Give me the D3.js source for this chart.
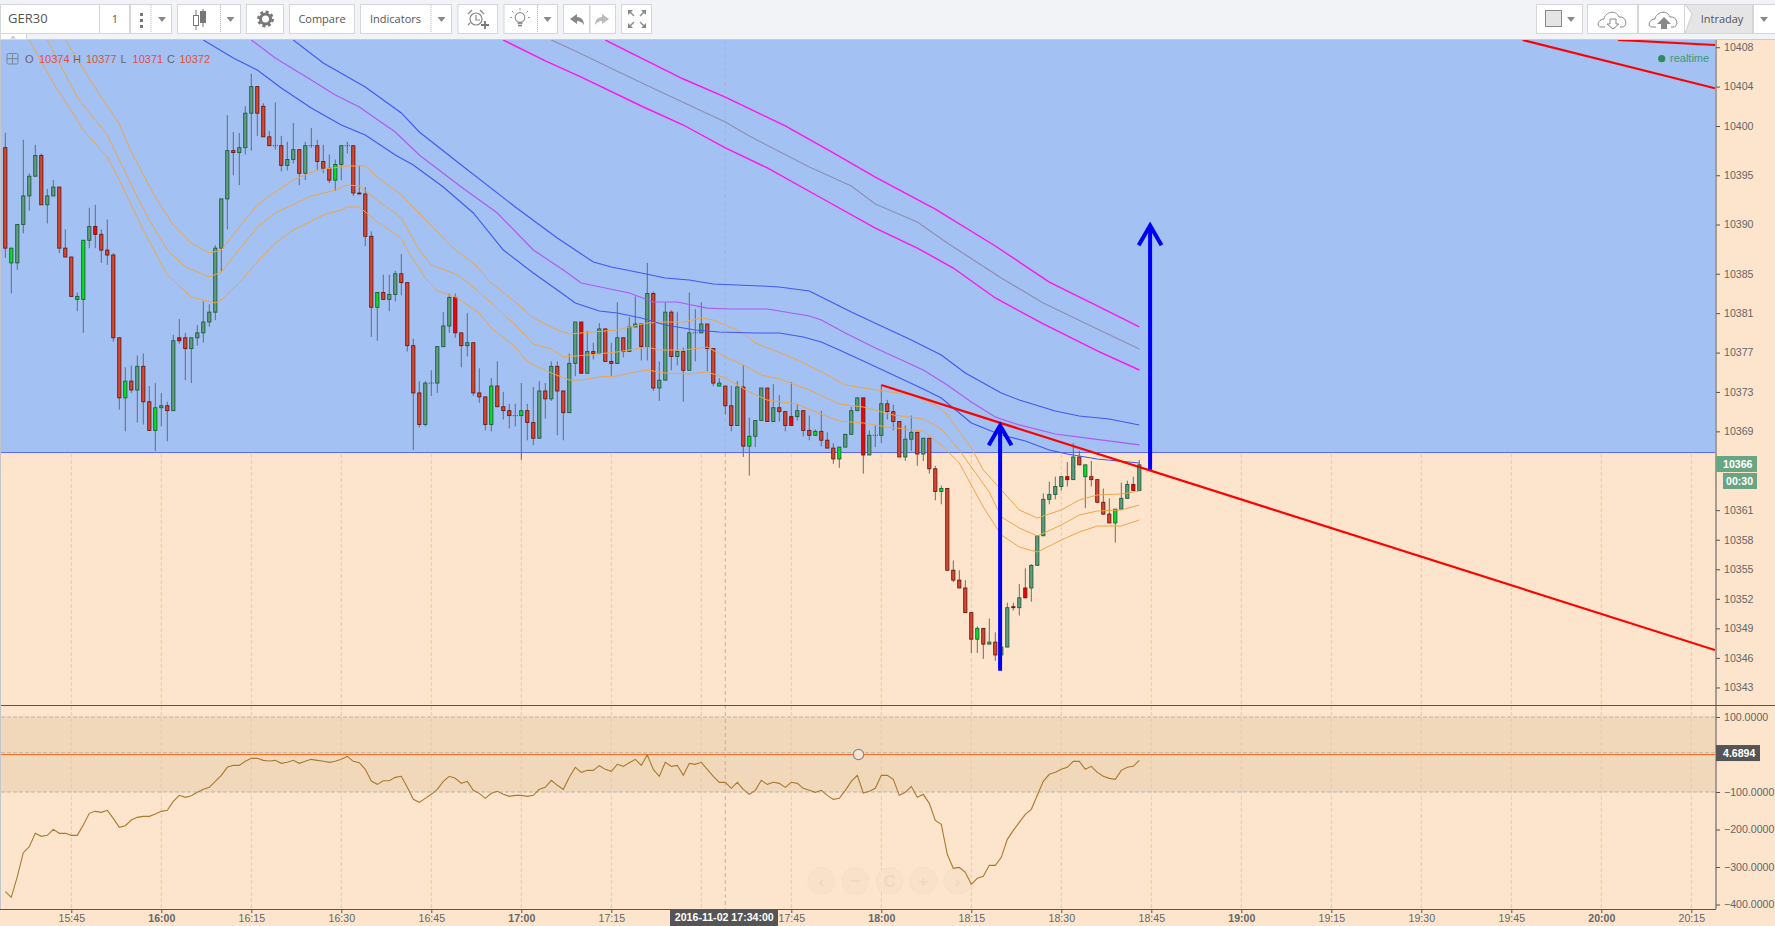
<!DOCTYPE html>
<html>
<head>
<meta charset="utf-8">
<title>GER30</title>
<style>
html, body { margin: 0; padding: 0; background: #fde5cd; overflow: hidden; }
svg { display: block; }
text { font-family: "Liberation Sans", Arial, sans-serif; }
.tb text { font-family: "Open Sans", sans-serif; fill: #555; }
</style>
</head>
<body>
<div id="chart"></div>
<script src="https://cdn.jsdelivr.net/npm/d3@7"></script>
<script type="text/javascript">

// prices are stored as points above 10000, one value per minute bar from 15:34
var base = 10000;
var startMinute = 15 * 60 + 34;

var opens = [397.8,386.1,386.1,390.0,392.9,394.9,397.0,392.0,392.9,393.8,
387.6,386.7,382.4,382.4,388.4,389.8,389.0,387.4,386.9,378.5,
372.4,374.1,373.2,375.6,372.0,369.1,371.4,371.6,371.1,378.5,
378.5,377.4,378.5,379.0,380.1,381.1,387.6,392.6,397.5,397.3,
397.8,401.3,404.0,402.0,398.9,398.0,398.0,396.0,396.6,397.6,
395.2,398.0,398.0,396.4,395.7,394.5,396.1,398.0,398.0,393.2,
393.1,388.8,381.6,383.1,382.4,382.9,385.0,384.1,377.7,372.9,
369.7,373.9,373.9,377.6,379.7,382.6,379.0,377.7,378.0,372.9,
372.5,369.7,373.6,371.5,371.1,370.6,370.6,371.1,369.9,368.3,
373.1,372.3,375.6,373.1,370.9,375.9,380.1,374.9,377.1,376.9,
379.4,376.1,375.9,378.5,377.1,379.6,379.9,377.6,383.0,373.4,
374.2,381.1,376.6,377.1,375.2,379.0,379.0,379.9,377.4,373.6,
373.6,371.6,369.6,373.5,367.5,368.5,370.1,373.4,370.0,371.4,
371.0,370.5,370.5,371.1,369.1,368.6,369.0,368.1,367.3,366.2,
367.4,368.7,371.1,372.4,366.6,368.6,368.6,371.8,371.0,370.0,
366.4,368.2,368.9,366.7,368.3,365.2,362.9,363.2,354.9,353.9,
353.1,350.6,347.9,349.0,347.4,347.6,346.3,347.1,351.2,351.1,
353.1,353.1,355.4,358.4,362.1,362.6,363.4,364.4,364.1,366.4,
364.4,364.4,364.1,361.8,360.6,359.7,361.1,362.2,363.6,363.0];

var highs = [399.3,387.6,390.0,398.6,395.2,398.1,397.2,393.6,394.5,393.8,
389.5,386.7,383.1,388.4,391.7,392.0,389.5,390.5,387.1,378.5,
375.5,375.7,376.7,376.9,373.6,373.9,372.9,372.0,378.8,380.4,
379.0,378.5,379.8,382.2,381.9,387.9,392.6,401.1,399.4,399.3,
402.0,405.3,404.0,402.3,399.5,402.4,399.0,398.4,400.3,397.6,
398.4,399.8,398.6,398.1,397.1,396.6,398.0,398.4,398.0,396.0,
393.8,389.3,383.1,384.9,384.9,385.3,387.0,384.1,378.4,374.1,
374.1,375.2,377.6,381.1,383.0,383.0,379.0,381.0,378.0,375.4,
372.5,374.4,376.1,373.0,371.8,371.8,373.9,371.8,373.5,374.1,
373.9,376.1,376.1,373.1,376.9,380.1,380.1,379.2,378.0,380.0,
379.4,378.0,382.1,378.5,380.6,382.7,379.9,386.1,383.2,376.1,
382.1,381.3,381.1,377.5,383.1,381.4,382.1,379.9,377.4,374.4,
373.6,373.6,374.1,375.7,370.4,370.1,373.4,373.4,373.8,372.7,
371.0,374.0,371.7,371.1,370.6,369.2,371.1,368.9,367.8,367.4,
368.7,371.5,372.4,372.4,369.1,369.6,373.7,372.2,371.7,370.0,
369.6,370.6,368.9,368.3,368.3,365.5,363.5,363.2,355.9,354.9,
353.9,350.6,349.2,349.0,350.0,348.6,347.1,351.6,351.6,353.5,
355.1,355.5,358.4,362.7,363.9,364.4,364.4,365.9,367.8,367.0,
365.6,366.0,364.1,363.2,362.2,361.1,363.8,364.0,364.4,366.1];

var lows = [386.6,383.0,385.4,389.1,391.4,394.9,392.0,390.1,392.9,387.1,
386.7,382.7,381.2,379.0,387.6,387.6,386.1,385.9,378.1,371.2,
369.0,372.9,369.9,369.7,369.1,367.0,369.5,368.0,371.1,377.9,
374.2,373.9,377.7,378.0,379.6,380.3,385.2,389.5,395.0,394.0,
397.1,397.5,399.0,398.9,398.0,397.6,395.4,395.5,396.2,394.0,
394.5,397.8,395.5,395.2,394.2,393.4,394.5,397.2,392.9,393.1,
387.8,378.6,378.2,382.4,381.2,382.2,382.8,377.1,367.1,369.4,
369.5,372.6,372.9,377.6,379.0,378.5,375.5,376.6,372.6,371.9,
369.1,369.0,371.5,370.2,369.3,369.5,366.1,368.1,367.6,368.3,
370.3,372.1,368.6,368.1,370.9,374.6,374.9,374.9,376.3,376.9,
376.1,374.6,375.9,376.5,377.1,379.6,376.2,376.2,373.1,372.1,
374.2,375.2,375.7,372.0,375.2,376.1,379.0,375.1,373.6,373.6,
370.7,369.0,369.6,366.4,364.5,367.4,370.1,370.0,370.0,370.0,
369.0,369.6,370.1,368.5,368.1,368.6,367.5,367.3,365.7,365.3,
367.4,368.7,371.1,364.7,366.6,367.4,367.8,370.2,369.1,366.4,
366.0,367.0,365.5,366.0,364.7,362.0,361.6,354.9,353.7,353.1,
350.6,346.5,346.5,345.9,347.4,345.7,346.3,347.1,350.8,350.3,
352.1,351.7,355.4,358.4,361.6,362.1,363.0,363.4,364.1,365.6,
361.2,363.4,361.7,360.5,359.7,357.7,361.1,362.2,363.0,363.0];

var closes = [387.6,387.6,390.0,392.9,394.9,397.0,392.0,392.9,393.8,387.6,
386.7,382.7,382.7,388.4,389.8,389.0,387.4,386.9,378.5,372.4,
374.1,373.2,375.6,372.0,369.1,371.4,371.6,371.1,378.2,378.2,
377.4,378.5,379.0,380.1,381.1,387.6,392.6,397.5,397.3,397.8,
401.3,404.0,401.3,398.9,398.0,398.0,396.0,396.6,397.6,395.2,
398.0,398.0,396.4,395.7,394.5,396.1,398.0,398.0,393.2,393.1,
388.8,381.6,383.1,382.4,382.9,385.0,384.1,377.7,372.9,369.7,
373.9,373.9,377.6,379.7,382.6,379.0,377.7,378.0,372.9,372.5,
369.7,373.6,371.5,371.1,370.6,370.6,371.1,369.9,368.3,373.1,
372.3,375.6,373.1,370.9,375.9,380.1,374.9,377.1,376.9,379.4,
376.1,375.9,378.5,377.1,379.6,379.9,377.6,383.0,373.4,374.2,
381.1,376.6,377.1,375.2,379.0,379.0,379.9,377.4,373.9,373.9,
371.6,369.6,373.5,367.5,368.5,370.1,373.4,370.0,371.4,371.0,
369.6,369.6,371.1,369.1,368.6,369.0,368.1,367.3,366.2,367.4,
368.7,371.1,372.4,366.6,368.6,368.6,371.8,371.0,370.0,366.4,
368.2,368.9,366.7,368.3,365.2,362.9,363.2,354.9,353.9,353.1,
350.6,347.9,349.0,347.4,347.6,346.3,347.1,351.1,351.1,352.1,
352.1,355.4,358.4,362.1,362.6,363.4,364.4,364.1,366.4,365.6,
365.6,364.1,361.8,360.6,359.7,361.1,362.2,363.6,363.0,365.6];

// bars painted in the bright colours
var brightBars = [1,12,13,15,20,25,29,55,62,75,81,86,96,119,124,131,135,139,143,156,162,170,177,180,185,188];

// cci, one value per bar
var cci = [-365.8,-380.9,-325.8,-261.8,-245.8,-210.2,-218.2,-215.6,-199.6,-210.2,
-210.2,-215.6,-215.6,-188,-156.9,-151.6,-154.2,-148.9,-170.2,-194.2,
-189.8,-174.7,-167.6,-164.9,-164.9,-158.7,-151.6,-148.9,-124.9,-108.9,
-114.2,-109.8,-100.9,-92.9,-87.6,-71.6,-55.6,-34.2,-28.9,-28.9,
-18.2,-10.2,-10.2,-15.6,-17.3,-15.6,-23.6,-20.9,-15.6,-23.6,
-18.2,-12.9,-15.6,-18.2,-20.9,-18.2,-12.9,-4.9,-18.2,-21.8,
-39.6,-70.7,-79.6,-69.8,-69.8,-60.9,-58.2,-87.6,-119.6,-127.6,
-116.9,-106.2,-92.9,-71.6,-58.2,-63.6,-76.9,-71.6,-95.6,-103.6,
-116.9,-103.6,-98.2,-106.2,-111.6,-108.9,-108.9,-111.6,-108.9,-92.9,
-87.6,-68.9,-82.2,-92.9,-60.9,-34.2,-47.6,-42.2,-42.2,-29.8,
-39.6,-44.9,-26.2,-31.6,-21.8,-12.9,-28.9,-1.3,-39.6,-58.2,
-20.9,-31.6,-28.9,-55.6,-23.6,-26.2,-20.9,-39.6,-58.2,-74.2,
-74.2,-90.2,-74.2,-92.9,-106.2,-95.6,-68.9,-79.6,-74.2,-76.9,
-87.6,-74.2,-76.9,-90.2,-95.6,-100.9,-95.6,-108.9,-119.6,-116.9,
-95.6,-71.6,-55.6,-102.7,-98.2,-90.2,-55.6,-55.6,-66.2,-108.9,
-100.9,-84.9,-114.2,-106.2,-130.2,-175.6,-186.2,-266.2,-303.6,-300.9,
-314.2,-346.2,-330.2,-324.9,-295.6,-295.6,-274.2,-226.2,-202.2,-180.9,
-159.6,-146.2,-108.9,-71.6,-52.9,-47.6,-39.6,-34.2,-18.2,-18.2,
-39.6,-31.6,-47.6,-58.2,-63.6,-66.2,-42.2,-34.2,-31.6,-15.6];

// moving average bands, read at the bars listed in the *Idx arrays
var orangeHighIdx = [10,15,19,21,25,28,31,34,36,39,42,45,48,52,57,60,62,66,75,78,81,85,88,92,94,98,102,107,110,113,116,118,120,123,125,130,132,136,140,143,151,155,157,161,163,166,169,172,176,179,182,186,189];
var orangeHighVal = [408.73,403.86,400.2,397.36,392.79,389.95,388.12,387.11,387.41,389.75,391.98,393.3,394.52,395.53,395.94,395.94,394.82,393.0,387.41,386.09,384.06,382.13,380.51,379.29,378.88,379.09,379.29,380.0,380.1,380.1,380.51,380.3,379.8,378.99,377.97,376.75,376.24,375.03,373.71,373.4,372.69,371.68,370.66,367.31,365.08,363.05,361.02,360.2,361.02,362.03,362.54,362.64,362.95];

var orangeMidIdx = [7,12,15,17,19,22,24,27,30,34,36,38,42,45,51,55,57,59,62,66,69,71,75,77,81,85,88,91,93,97,102,107,109,113,117,120,123,126,129,134,139,143,148,153,156,159,161,164,166,169,172,176,179,182,186,189];
var orangeMidVal = [408.73,402.94,400.61,399.09,396.55,392.79,390.46,387.41,385.69,384.67,385.18,386.7,389.75,391.17,392.89,393.5,394.01,393.91,392.49,390.66,387.41,385.89,384.98,384.16,382.03,379.8,377.87,377.36,376.55,376.75,377.06,377.56,377.26,377.26,377.56,376.55,375.74,374.72,374.32,373.2,371.78,371.47,370.66,370.25,369.24,367.11,365.38,362.84,360.31,359.19,358.38,359.49,360.51,360.91,361.02,361.52];

var orangeLowIdx = [4,8,12,13,17,19,23,27,31,35,36,39,42,45,48,53,56,57,59,62,66,67,70,72,75,79,81,85,87,91,94,96,99,102,105,107,110,114,117,120,124,127,132,135,139,143,147,153,156,159,161,163,166,169,172,176,179,182,186,189];
var orangeLowVal = [408.73,404.37,400.61,399.59,396.85,394.52,389.44,384.87,382.64,382.03,382.34,384.06,386.19,388.12,389.44,390.96,391.47,391.78,391.78,390.25,388.63,387.41,384.57,383.25,382.64,381.02,379.49,377.56,376.04,374.92,374.21,374.21,374.52,374.62,375.03,375.23,374.92,374.82,375.03,374.42,373.0,372.18,371.78,370.97,370.05,369.85,369.44,369.04,367.62,365.79,363.55,361.32,358.48,357.26,356.75,357.97,358.78,359.39,359.39,360.0];

var blueLowIdx = [33,38,42,46,51,56,60,65,68,73,78,83,88,92,95,99,102,106,110,115,119,125,129,133,136,139,143,148,153,156,161,166,170,174,177,182,189];
var blueLowVal = [408.73,406.9,405.69,403.86,401.83,400.1,399.09,397.06,396.04,393.81,391.17,387.41,385.08,383.35,382.03,381.22,381.02,380.51,379.8,379.29,379.09,378.99,378.99,378.58,378.07,377.26,376.14,374.72,373.3,372.39,369.85,368.63,368.02,367.11,366.7,366.19,365.79];

var violetIdx = [41,45,51,55,59,65,69,76,82,88,93,96,100,104,108,112,117,121,127,129,134,136,140,145,153,157,161,165,169,175,180,189];
var violetVal = [408.73,406.9,404.67,403.15,401.93,399.39,397.06,393.81,391.17,387.41,385.38,384.06,383.55,383.05,382.13,382.13,381.52,381.42,381.42,381.22,380.71,380.3,378.99,377.46,375.23,373.71,371.98,370.46,369.65,368.73,368.33,367.62];

var blueHighIdx = [48,53,60,66,69,76,85,92,95,98,101,106,110,114,118,122,126,129,134,137,141,146,151,156,160,166,169,175,179,184,189];
var blueHighVal = [408.73,406.4,403.96,401.32,399.39,396.04,391.78,388.63,387.41,386.19,385.69,385.08,384.57,384.37,383.96,383.86,383.76,383.66,383.25,382.34,381.12,379.7,378.27,376.75,374.92,372.89,372.18,371.07,370.56,370.25,369.65];

var magentaLowIdx = [83,90,96,106,113,120,127,136,145,152,158,165,173,182,189];
var magentaLowVal = [408.73,406.6,404.97,402.03,400.1,397.77,395.74,392.69,389.64,387.61,385.58,382.54,379.9,377.16,375.23];

var greyIdx = [91,95,104,110,120,124,134,141,145,152,157,166,173,182,189];
var greyVal = [408.73,407.61,404.97,403.25,400.41,398.98,395.84,393.91,392.08,390.25,388.12,384.57,382.03,379.39,377.36];

var magentaHighIdx = [100,106,113,120,130,138,145,155,165,174,182,189];
var magentaHighVal = [408.73,406.9,404.77,402.94,400.0,397.26,394.82,391.57,387.82,384.16,381.73,379.6];

// drawn objects: trend lines, arrows, rectangle
var trendFromIdx = [146,252.9,268.8];
var trendFromVal = [373.7,408.73,408.73];
var trendToIdx = [284.95,284.95,284.95];
var trendToVal = [346.8,403.83,408.22];

var arrowIdx = [165.8,190.8];
var arrowFoot = [344.7,365.1];
var arrowTip = [369.6,389.9];
var arrowHead = [367.6,387.9];

var rectLow = 366.85;
var currentPrice = 366;

// axis ticks, 17:30 has a grid line but its label sits under the crosshair tag
var priceTicks = [10408,10404,10400,10395,10390,10385,10381,10377,10373,10369,10361,10358,10355,10352,10349,10346,10343];
var cciTicks = [100,-100,-200,-300,-400];
var gridTimes = ['15:45','16:00','16:15','16:30','16:45','17:00','17:15','17:30','17:45','18:00','18:15','18:30','18:45','19:00','19:15','19:30','19:45','20:00','20:15'];
var timeTicks = ['15:45','16:00','16:15','16:30','16:45','17:00','17:15','17:45','18:00','18:15','18:30','18:45','19:00','19:15','19:30','19:45','20:00','20:15'];
var cciBand = [100,-100];
var cciNow = 4.6894;

// layout
var W = 1775, H = 926;
var plotL = 1, plotR = 1715, axisX = 1716, plotT = 40, plotB = 705, subB = 909;

function toIdx(t) {
    var p = t.split(':');
    return (+p[0]) * 60 + (+p[1]) - startMinute;
}

var x = d3.scaleLinear().domain([0, 189]).range([5.3, 1139.3]);
var y = d3.scaleLinear().domain([10408.73, 10341.22]).range([plotT, plotB]);
var yc = d3.scaleLinear().domain([100, -400]).range([717, 904.5]);

var svg = d3.select('#chart')
.append('svg')
.attr('width', W)
.attr('height', H);

svg.append('rect').attr('width', W).attr('height', H).attr('fill', '#fde5cd');

var defs = svg.append('defs');
defs.append('clipPath').attr('id', 'plotClip').append('rect')
    .attr('x', plotL).attr('y', plotT).attr('width', plotR - plotL).attr('height', plotB - plotT);
defs.append('clipPath').attr('id', 'subClip').append('rect')
    .attr('x', plotL).attr('y', plotB).attr('width', plotR - plotL).attr('height', subB - plotB);

// band of the cci
svg.append('rect')
    .attr('x', plotL).attr('width', plotR - plotL)
    .attr('y', yc(cciBand[0])).attr('height', yc(cciBand[1]) - yc(cciBand[0]))
    .attr('fill', '#f2d8bb');

// vertical grid
svg.append('g').selectAll('line').data(gridTimes).enter().append('line')
    .attr('x1', d => x(toIdx(d))).attr('x2', d => x(toIdx(d)))
    .attr('y1', plotT).attr('y2', subB)
    .attr('stroke', '#f9c793').attr('stroke-width', 1).attr('stroke-dasharray', '4,2');

// rectangle over the grid
svg.append('rect')
    .attr('x', plotL).attr('width', plotR - plotL)
    .attr('y', plotT).attr('height', y(base + rectLow) - plotT)
    .attr('fill', '#a3c1f3');
svg.append('line')
    .attr('x1', plotL).attr('x2', plotR)
    .attr('y1', y(base + rectLow)).attr('y2', y(base + rectLow))
    .attr('stroke', '#5a68f0').attr('stroke-width', 1);

// crosshair at 17:34
svg.append('line')
    .attr('x1', x(120)).attr('x2', x(120)).attr('y1', plotT).attr('y2', subB)
    .attr('stroke', '#b5b5b5').attr('stroke-width', 1).attr('stroke-dasharray', '4,3');

// candles
var plot = svg.append('g').attr('clip-path', 'url(#plotClip)');
var bars = d3.range(opens.length);

plot.append('g').selectAll('line').data(bars).enter().append('line')
    .attr('x1', i => x(i)).attr('x2', i => x(i))
    .attr('y1', i => y(base + highs[i])).attr('y2', i => y(base + lows[i]))
    .attr('stroke', '#6b6b6b').attr('stroke-width', 1);

bars.forEach(function(i) {
    var o = opens[i], c = closes[i];
    var top = y(base + Math.max(o, c)), bottom = y(base + Math.min(o, c));
    var bright = brightBars.indexOf(i) > -1;
    if (o == c) {
        // doji
        plot.append('line')
            .attr('x1', x(i) - 2.5).attr('x2', x(i) + 2.5)
            .attr('y1', top).attr('y2', top)
            .attr('stroke', '#1f5c3c').attr('stroke-width', 1).attr('stroke-dasharray', '1,1');
        return;
    }
    var up = c > o;
    var fill = up ? (bright ? '#00e61a' : '#5f9e7e') : (bright ? '#ff0000' : '#d9472f');
    plot.append('rect')
        .attr('x', x(i) - 1.6).attr('width', 3.2)
        .attr('y', top).attr('height', Math.max(bottom - top, 0.5))
        .attr('fill', fill)
        .attr('stroke', up ? '#1f5c3c' : '#6a1a12').attr('stroke-width', 0.9);
});

// moving averages on top of the candles
var line = d3.line().x(d => x(d[0])).y(d => y(base + d[1]));
var series = [
    [orangeHighIdx, orangeHighVal, '#eea64a', 1],
    [orangeMidIdx, orangeMidVal, '#eea64a', 1],
    [orangeLowIdx, orangeLowVal, '#eea64a', 1],
    [blueLowIdx, blueLowVal, '#4058f2', 1.1],
    [violetIdx, violetVal, '#ac5cf2', 1.2],
    [blueHighIdx, blueHighVal, '#4058f2', 1.1],
    [magentaLowIdx, magentaLowVal, '#ff14ee', 1.4],
    [greyIdx, greyVal, '#8f8fb4', 1.2],
    [magentaHighIdx, magentaHighVal, '#ff14ee', 1.4]
];
series.forEach(function(s) {
    plot.append('path')
        .attr('d', line(d3.zip(s[0], s[1])))
        .attr('fill', 'none')
        .attr('stroke', s[2])
        .attr('stroke-width', s[3]);
});

// trend lines
trendFromIdx.forEach(function(d, i) {
    plot.append('line')
        .attr('x1', x(d)).attr('y1', y(base + trendFromVal[i]))
        .attr('x2', x(trendToIdx[i])).attr('y2', y(base + trendToVal[i]))
        .attr('stroke', '#ff0000').attr('stroke-width', 2.2);
});

// arrows
arrowIdx.forEach(function(d, i) {
    plot.append('path')
        .attr('d', line([[d, arrowFoot[i]], [d, arrowTip[i]]]) + line([[d - 1.9, arrowHead[i]], [d, arrowTip[i]], [d + 1.9, arrowHead[i]]]))
        .attr('fill', 'none')
        .attr('stroke', '#0000f5').attr('stroke-width', 4);
});

// cci panel
svg.selectAll('.lvl').data([cciBand[0], cciNow, cciBand[1]]).enter().append('line')
    .attr('x1', plotL).attr('x2', plotR)
    .attr('y1', d => yc(d)).attr('y2', d => yc(d))
    .attr('stroke', '#b9b4ac').attr('stroke-width', 1).attr('stroke-dasharray', '4,2');

svg.append('line')
    .attr('x1', plotL).attr('x2', plotR)
    .attr('y1', yc(0)).attr('y2', yc(0))
    .attr('stroke', '#ff6a22').attr('stroke-width', 1);

// faint zoom buttons
var zoomGlyphs = ['\u2039', '\u2212', 'C', '+', '\u203A'];
var zoomIdx = [136, 141.7, 147.4, 153, 158.7];
var zg = svg.append('g');
zoomGlyphs.forEach(function(t, i) {
    zg.append('circle').attr('cx', x(zoomIdx[i])).attr('cy', 881).attr('r', 13.5)
        .attr('fill', '#f9e1c9').attr('stroke', '#f6dfc8');
    zg.append('text').attr('x', x(zoomIdx[i])).attr('y', 887).attr('text-anchor', 'middle')
        .style('font-size', '17px').style('font-weight', 'bold').style('fill', '#f0d8c0').text(t);
});

var sub = svg.append('g').attr('clip-path', 'url(#subClip)');
sub.append('path')
    .attr('d', d3.line().x((d, i) => x(i)).y(d => yc(d))(cci))
    .attr('fill', 'none')
    .attr('stroke', '#a87a2c').attr('stroke-width', 1.1);

// handle of the horizontal line
svg.append('circle')
    .attr('cx', x(142.2)).attr('cy', yc(0)).attr('r', 5.2)
    .attr('fill', '#f7e4d2').attr('stroke', '#8a8a8a').attr('stroke-width', 1.2);

// axes
var yAxis = d3.axisRight(y).tickValues(priceTicks).tickSize(4).tickPadding(4).tickFormat(d3.format('d'));
var ycAxis = d3.axisRight(yc).tickValues(cciTicks).tickSize(4).tickPadding(4).tickFormat(d3.format('.4f'));
var xAxis = d3.axisBottom(x).tickValues(timeTicks.map(toIdx)).tickSize(4).tickPadding(1)
    .tickFormat(d => timeTicks[timeTicks.map(toIdx).indexOf(d)]);

function styleAxis(g) {
    g.select('.domain').remove();
    g.selectAll('line').attr('stroke', '#555');
    g.selectAll('text').style('font-size', '10.6px').style('fill', '#666').style('font-family', '"Liberation Sans", Arial, sans-serif');
}

svg.append('g').attr('transform', 'translate(' + axisX + ',0)').call(yAxis).call(styleAxis);
svg.append('g').attr('transform', 'translate(' + axisX + ',0)').call(ycAxis).call(styleAxis);
svg.append('g').attr('transform', 'translate(0,' + subB + ')').call(xAxis).call(styleAxis)
    .selectAll('text')
    .style('font-weight', d => (d + startMinute) % 60 == 0 ? 'bold' : 'normal')
    .style('fill', '#666');

var frame = svg.append('g').attr('stroke', '#555').attr('stroke-width', 1);
frame.append('line').attr('x1', axisX).attr('x2', axisX).attr('y1', plotT).attr('y2', subB);
frame.append('line').attr('x1', 0).attr('x2', W).attr('y1', plotB + 0.5).attr('y2', plotB + 0.5);
frame.append('line').attr('x1', 0).attr('x2', axisX).attr('y1', subB + 0.5).attr('y2', subB + 0.5);
svg.append('line').attr('x1', 0.5).attr('x2', 0.5).attr('y1', plotT).attr('y2', subB)
    .attr('stroke', '#c4c6cc');

// tags on the axes
function tag(x0, x1, yc0, h, fill, txt, tx) {
    svg.append('rect').attr('x', x0).attr('y', yc0 - h / 2).attr('width', x1 - x0).attr('height', h).attr('fill', fill);
    svg.append('text').attr('x', tx).attr('y', yc0 + 3.8)
        .style('font-size', '10.6px').style('font-weight', 'bold').style('fill', '#fff').text(txt);
}
tag(axisX, 1757, 464, 16, '#6aa583', String(base + currentPrice), 1723);
tag(1723, 1757, 481, 16, '#6aa583', '00:30', 1726);
tag(axisX, 1760, yc(cciNow) + 0.3, 16, '#555', cciNow.toFixed(4), 1723);

svg.append('rect').attr('x', 670).attr('y', subB).attr('width', 108).attr('height', H - subB).attr('fill', '#555');
svg.append('text').attr('x', x(120) - 1).attr('y', 921).attr('text-anchor', 'middle')
    .style('font-size', '10.6px').style('font-weight', 'bold').style('fill', '#fff').text('2016-11-02 17:34:00');

// legend
var lg = svg.append('g');
lg.append('rect').attr('x', 7).attr('y', 53.5).attr('width', 11).attr('height', 10.5).attr('rx', 1.5)
    .attr('fill', 'none').attr('stroke', '#7a8794');
lg.append('path').attr('d', 'M7,58.7H18M12.5,53.5V64').attr('stroke', '#7a8794').attr('fill', 'none');
var legendKeys = ['O', 'H', 'L', 'C'];
var legendVals = ['10374', '10377', '10371', '10372'];
var legendKeyX = [25, 73, 120.5, 167];
var legendValX = [39, 86, 132.6, 179.5];
legendKeys.forEach(function(k, i) {
    lg.append('text').attr('x', legendKeyX[i]).attr('y', 63).style('font-size', '11px').style('fill', '#666').text(k);
    lg.append('text').attr('x', legendValX[i]).attr('y', 63).style('font-size', '11px').style('fill', '#e0503a').text(legendVals[i]);
});
svg.append('circle').attr('cx', 1661.7).attr('cy', 58.7).attr('r', 3.6).attr('fill', '#2e8b57');
svg.append('text').attr('x', 1670).attr('y', 62).style('font-size', '11px').style('fill', '#3f9a6c').text('realtime');

// toolbar
var tb = svg.append('g').attr('class', 'tb');
tb.append('rect').attr('width', W).attr('height', 39).attr('fill', '#f1f3f6');
tb.append('line').attr('x1', 0).attr('x2', W).attr('y1', 39.5).attr('y2', 39.5).attr('stroke', '#c9cbcf');

function box(x0, x1, fill) {
    tb.append('rect').attr('x', x0 + 0.5).attr('y', 4.5).attr('width', x1 - x0 - 1).attr('height', 29)
        .attr('fill', fill || '#fff').attr('stroke', '#d4d6da').attr('stroke-width', 1);
}
function divider(xp) {
    tb.append('line').attr('x1', xp).attr('x2', xp).attr('y1', 5).attr('y2', 33)
        .attr('stroke', '#bbb').attr('stroke-dasharray', '1,1');
}
function caret(xp) {
    tb.append('path').attr('d', 'M' + (xp - 4) + ',17H' + (xp + 4) + 'L' + xp + ',22Z').attr('fill', '#8a8a8a');
}
function label(xp, txt, size, anchor) {
    tb.append('text').attr('x', xp).attr('y', 23).attr('text-anchor', anchor || 'middle')
        .style('font-size', size + 'px').text(txt);
}

box(0, 100); label(8, 'GER30', 13, 'start');
box(99, 130); label(115, '1', 11);
box(130, 172); divider(151); caret(162);
tb.selectAll('.dot').data([13, 19, 25]).enter().append('rect')
    .attr('x', 140).attr('y', d => d).attr('width', 3).attr('height', 3).attr('fill', '#777');
box(177, 241); divider(220.5); caret(230.5);
tb.append('path').attr('d', 'M196,10V30M203,9V27').attr('stroke', '#777');
tb.append('rect').attr('x', 193.5).attr('y', 15.5).attr('width', 5).attr('height', 10).attr('fill', '#fff').attr('stroke', '#777');
tb.append('rect').attr('x', 200.5).attr('y', 11.5).attr('width', 5).attr('height', 11).attr('fill', '#777').attr('stroke', '#777');
box(246, 284);
tb.append('circle').attr('cx', 265.5).attr('cy', 19).attr('r', 5).attr('fill', 'none').attr('stroke', '#777').attr('stroke-width', 3);
tb.append('circle').attr('cx', 265.5).attr('cy', 19).attr('r', 7.2).attr('fill', 'none').attr('stroke', '#777').attr('stroke-width', 2.4).attr('stroke-dasharray', '3,2.65');
box(289, 355); label(322, 'Compare', 11);
box(360, 452); divider(431); caret(441.5); label(395.5, 'Indicators', 11);
box(457.5, 498);
tb.append('circle').attr('cx', 476).attr('cy', 19).attr('r', 6).attr('fill', 'none').attr('stroke', '#888').attr('stroke-width', 1.2);
tb.append('path').attr('d', 'M468,14L472,10M484,14L480,10M476,15V20H480M468,25L470,23').attr('fill', 'none').attr('stroke', '#888').attr('stroke-width', 1.2);
tb.append('path').attr('d', 'M485,21V29M481,25H489').attr('fill', 'none').attr('stroke', '#777').attr('stroke-width', 1.8);
box(503.5, 558); divider(537.5); caret(547.5);
tb.append('circle').attr('cx', 520).attr('cy', 17.5).attr('r', 4.8).attr('fill', 'none').attr('stroke', '#999').attr('stroke-width', 1.2);
tb.append('path').attr('d', 'M517.5,23H522.5M518,25.5H522').attr('stroke', '#777').attr('stroke-width', 1.4);
tb.append('path').attr('d', 'M520,8V10M512,11L513.5,12.5M528,11L526.5,12.5M510,17.5H512M528,17.5H530').attr('stroke', '#999');
box(563, 590); box(589.5, 616);
tb.append('path').attr('d', 'M570,19L577,14V17C582,17 584,21 584,25C582,22 580,21 577,21V24Z').attr('fill', '#888');
tb.append('path').attr('d', 'M609,19L602,14V17C597,17 595,21 595,25C597,22 599,21 602,21V24Z').attr('fill', '#bbb');
box(621, 652);
tb.append('path').attr('d', 'M628,10H633L628,15ZM646,10H641L646,15ZM628,28H633L628,23ZM646,28H641L646,23Z').attr('fill', '#888');
tb.append('path').attr('d', 'M630,12L634,16M644,12L640,16M630,26L634,22M644,26L640,22').attr('stroke', '#888').attr('stroke-width', 1.4);

tb.append('rect').attr('x', 0.5).attr('y', 33.5).attr('width', 26).attr('height', 6).attr('fill', '#fff').attr('stroke', '#d4d6da');
tb.append('path').attr('d', 'M10,38.5H16L13,35.5Z').attr('fill', '#c8c8c8');

box(1536, 1583); caret(1571);
tb.append('rect').attr('x', 1545.5).attr('y', 10.5).attr('width', 16).attr('height', 16).attr('fill', '#e4e4e4').attr('stroke', '#888');

function cloud(cx) {
    tb.append('path')
        .attr('d', 'M' + (cx - 8) + ',27H' + (cx - 12) + 'C' + (cx - 17) + ',27 ' + (cx - 15) + ',19 ' + (cx - 9) + ',19C' + (cx - 8) + ',12 ' + (cx + 3) + ',9 ' + (cx + 6) + ',17C' + (cx + 14) + ',16 ' + (cx + 15) + ',27 ' + (cx + 9) + ',27H' + (cx + 7))
        .attr('fill', 'none').attr('stroke', '#888').attr('stroke-width', 1);
}
box(1587, 1638); cloud(1613);
tb.append('path').attr('d', 'M1610,19H1616V24H1619L1613,29L1607,24H1610Z').attr('fill', '#fff').attr('stroke', '#888');
box(1638, 1685); cloud(1664);
tb.append('path').attr('d', 'M1661,29V24H1657L1664,17L1671,24H1667V29Z').attr('fill', '#888');
box(1685, 1753, '#e5e5e5'); label(1722, 'Intraday', 11);
tb.append('path').attr('d', 'M1685,4.5L1692,14L1685,33.5').attr('fill', '#fff').attr('stroke', '#cfcfcf');
box(1753, 1776); caret(1764);

</script>
</body>
</html>
